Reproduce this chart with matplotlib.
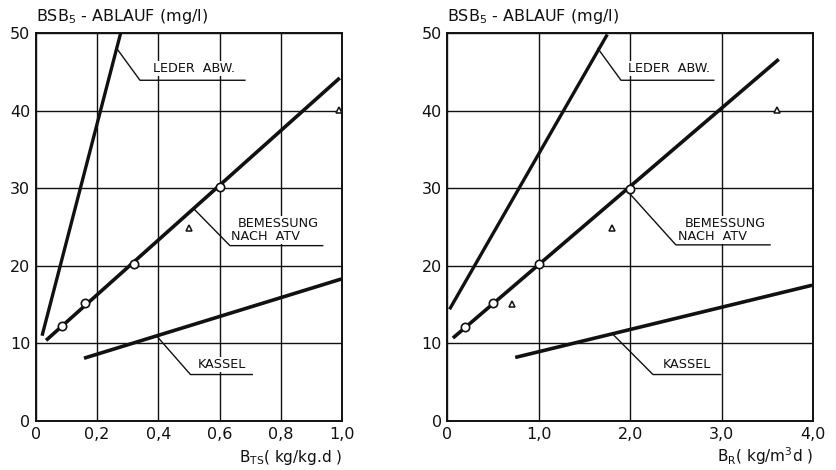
"""
BSB5-Ablauf vs. Schlammbelastung (B_TS) and Raumbelastung (B_R).
Two panels, technical-drawing style.
"""

import matplotlib
matplotlib.use("Agg")
import matplotlib.pyplot as plt

# ── data: left panel (B_TS) ────────────────────────────────────────────────
bts_leder_x = [0.02, 0.277]
bts_leder_y = [11.0, 50.0]
bts_atv_x = [0.033, 0.993]
bts_atv_y = [10.4, 44.2]
bts_kassel_x = [0.157, 0.998]
bts_kassel_y = [8.1, 18.3]
bts_circ_x = [0.085, 0.16, 0.32, 0.60]
bts_circ_y = [12.2, 15.2, 20.2, 30.1]
bts_tri_x = [0.50, 0.99]
bts_tri_y = [24.9, 40.1]

# ── data: right panel (B_R) ────────────────────────────────────────────────
br_leder_x = [0.025, 1.75]
br_leder_y = [14.4, 49.8]
br_atv_x = [0.062, 3.625]
br_atv_y = [10.7, 46.6]
br_kassel_x = [0.743, 3.99]
br_kassel_y = [8.2, 17.5]
br_circ_x = [0.19, 0.50, 1.00, 2.00]
br_circ_y = [12.1, 15.2, 20.2, 29.9]
br_tri_x = [0.71, 1.80, 3.61]
br_tri_y = [15.1, 24.9, 40.1]

y_ticks = [0, 10, 20, 30, 40, 50]
y_labels = ["0", "10", "20", "30", "40", "50"]
bts_ticks = [0, 0.2, 0.4, 0.6, 0.8, 1.0]
bts_labels = ["0", "0,2", "0,4", "0,6", "0,8", "1,0"]
br_ticks = [0, 1, 2, 3, 4]
br_labels = ["0", "1,0", "2,0", "3,0", "4,0"]

# leader paths (line point -> knee -> end of underline) and label spots
LEADERS_L = {
    "leder":  ([0.264, 0.340, 0.683], [48.0, 43.9, 43.9]),
    "atv":    ([0.517, 0.634, 0.937], [27.3, 22.6, 22.6]),
    "kassel": ([0.396, 0.505, 0.707], [10.9, 6.0, 6.0]),
}
LEADERS_R = {
    "leder":  ([1.647, 1.90, 2.915], [48.0, 43.9, 43.9]),
    "atv":    ([1.98, 2.50, 3.53], [29.5, 22.7, 22.7]),
    "kassel": ([1.81, 2.25, 2.99], [11.2, 6.0, 6.0]),
}

INK = "#111111"
plt.rcParams["font.family"] = "DejaVu Sans"

fig = plt.figure(figsize=(8.36, 4.70), dpi=100)
ax_l = fig.add_axes([0.043, 0.104, 0.366, 0.826])
ax_r = fig.add_axes([0.535, 0.104, 0.4375, 0.826])


def label(ax, x, y, s, ha="left"):
    ax.text(x, y, s, fontsize=9.2, color=INK, ha=ha, va="center", zorder=4,
            bbox=dict(facecolor="white", edgecolor="none", pad=0.8))


def draw_panel(ax, xmax, xticks, xlabels, leader_x, leader_y, atv_x, atv_y,
               kassel_x, kassel_y, circ_x, circ_y, tri_x, tri_y, leaders,
               xlab, lab_pos):
    ax.set_xlim(0, xmax)
    ax.set_ylim(0, 50)
    ax.set_xticks(xticks)
    ax.set_xticklabels(xlabels)
    ax.set_yticks(y_ticks)
    ax.set_yticklabels(y_labels)
    ax.tick_params(length=0, labelsize=11.5, pad=4, colors=INK)
    ax.grid(True, color=INK, lw=1.0)
    ax.set_axisbelow(True)
    for sp in ax.spines.values():
        sp.set_color(INK)
        sp.set_linewidth(1.4)

    ax.plot(leader_x, leader_y, color=INK, lw=2.4, solid_capstyle="butt", zorder=3)
    ax.plot(atv_x, atv_y, color=INK, lw=2.6, solid_capstyle="butt", zorder=3)
    ax.plot(kassel_x, kassel_y, color=INK, lw=2.6, solid_capstyle="butt", zorder=3)
    ax.plot(circ_x, circ_y, ls="none", marker="o", ms=6, mfc="white",
            mec=INK, mew=1.2, zorder=6, clip_on=False)
    ax.plot(tri_x, tri_y, ls="none", marker="^", ms=5, mfc="white",
            mec=INK, mew=1.1, zorder=6, clip_on=False)

    # leader lines with underline drawn above the label boxes
    for key in ("leder", "atv", "kassel"):
        lx, ly = leaders[key]
        ax.plot(lx, ly, color=INK, lw=1.0, zorder=5)

    (x1, y1), (x2, y2a, y2b), (x3, y3) = lab_pos
    label(ax, x1, y1, "LEDER  ABW.", ha="center")
    label(ax, x2[0], y2a, "BEMESSUNG")
    label(ax, x2[1], y2b, "NACH  ATV")
    label(ax, x3, y3, "KASSEL", ha="center")

    ax.text(0, 1.018, r"BSB$_5$ - ABLAUF (mg/l)", transform=ax.transAxes,
            fontsize=11.5, color=INK, ha="left", va="bottom")
    ax.text(1.0, -0.105, xlab, transform=ax.transAxes, fontsize=11,
            color=INK, ha="right", va="baseline")


draw_panel(ax_l, 1.0, bts_ticks, bts_labels, bts_leder_x, bts_leder_y,
           bts_atv_x, bts_atv_y, bts_kassel_x, bts_kassel_y,
           bts_circ_x, bts_circ_y, bts_tri_x, bts_tri_y, LEADERS_L,
           r"B$_{\mathrm{TS}}$( kg/kg.d )",
           [(0.515, 45.4), ([0.660, 0.637], 25.4, 23.8), (0.608, 7.3)])

draw_panel(ax_r, 4.0, br_ticks, br_labels, br_leder_x, br_leder_y,
           br_atv_x, br_atv_y, br_kassel_x, br_kassel_y,
           br_circ_x, br_circ_y, br_tri_x, br_tri_y, LEADERS_R,
           r"B$_{\mathrm{R}}$( kg/m$^3$d )",
           [(2.43, 45.4), ([2.60, 2.52], 25.4, 23.8), (2.62, 7.3)])

fig.savefig("out.png", dpi=100)
